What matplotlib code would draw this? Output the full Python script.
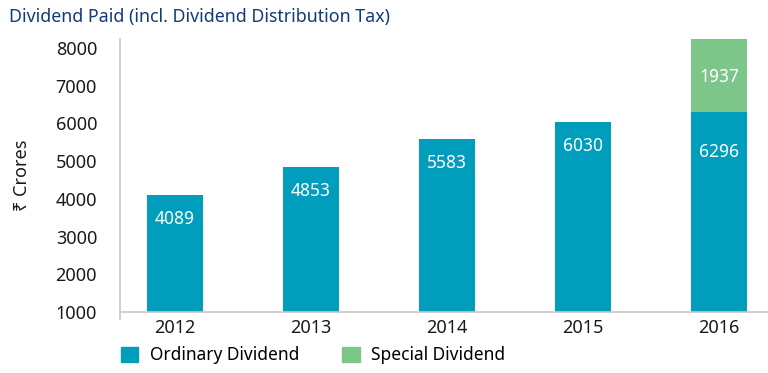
import matplotlib.pyplot as plt
from matplotlib.patches import Patch

plt.rcParams['font.family'] = ['Noto Sans', 'DejaVu Sans']

years = ['2012', '2013', '2014', '2015', '2016']
ordinary = [4089, 4853, 5583, 6030, 6296]
special = [0, 0, 0, 0, 1937]
base = 1000

teal = '#009dbd'
green = '#7dc68a'
grey = '#c8c8c8'

fig = plt.figure(figsize=(7.68, 3.73), dpi=100)
ax = fig.add_axes([0.15625, 0.1635, 0.84375, 0.732])

x = range(len(years))
ord_h = [v - base for v in ordinary]
tops = [v for v in ordinary]
ax.bar(x, ord_h, bottom=base, width=0.41, color=teal)
ax.bar(x, special, bottom=tops, width=0.41, color=green)

# value labels inside the bars
offsets = [24, 24, 24, 24, 40]
for i, v in enumerate(ordinary):
    ax.annotate(str(v), (i, v), xytext=(0, -offsets[i]), textcoords='offset pixels',
                ha='center', va='center', color='white', fontsize=12.5)
for i, s in enumerate(special):
    if s:
        ax.annotate(str(s), (i, ordinary[i] + s), xytext=(0, -38), textcoords='offset pixels',
                    ha='center', va='center', color='white', fontsize=12.5)

ax.set_xlim(-0.404, 4.36)
ax.set_ylim(base, 8233)
ax.set_yticks(range(1000, 8001, 1000))
ax.set_xticks(list(x))
ax.set_xticklabels(years)
ax.tick_params(axis='both', length=0, labelsize=13, colors='#1a1a1a')
ax.tick_params(axis='y', pad=16.5)
ax.tick_params(axis='x', pad=5)

# small crossing ticks at the origin
ax.set_yticks([base], minor=True)
ax.set_xticks([-0.404], minor=True)
ax.tick_params(which='minor', length=6, color=grey, width=1.2)

for side in ['top', 'right']:
    ax.spines[side].set_visible(False)
for side in ['left', 'bottom']:
    ax.spines[side].set_color(grey)
    ax.spines[side].set_linewidth(1.2)

ax.set_ylabel('₹ Crores', fontsize=13, color='#1a1a1a')
ax.yaxis.set_label_coords(-0.138, 0.5)

fig.text(0.012, 0.955, 'Dividend Paid (incl. Dividend Distribution Tax)',
         fontsize=12.8, color='#123b7a', ha='left', va='center', fontweight='medium')

handles = [Patch(color=teal, label='Ordinary Dividend'),
           Patch(color=green, label='Special Dividend')]
fig.legend(handles=handles, loc='center left', bbox_to_anchor=(0.1576, 0.047), ncol=2,
           frameon=False, fontsize=12.5, handlelength=1.0, handleheight=1.0,
           handletextpad=0.65, columnspacing=2.5, borderaxespad=0, borderpad=0)

fig.savefig('out.png', dpi=100)
